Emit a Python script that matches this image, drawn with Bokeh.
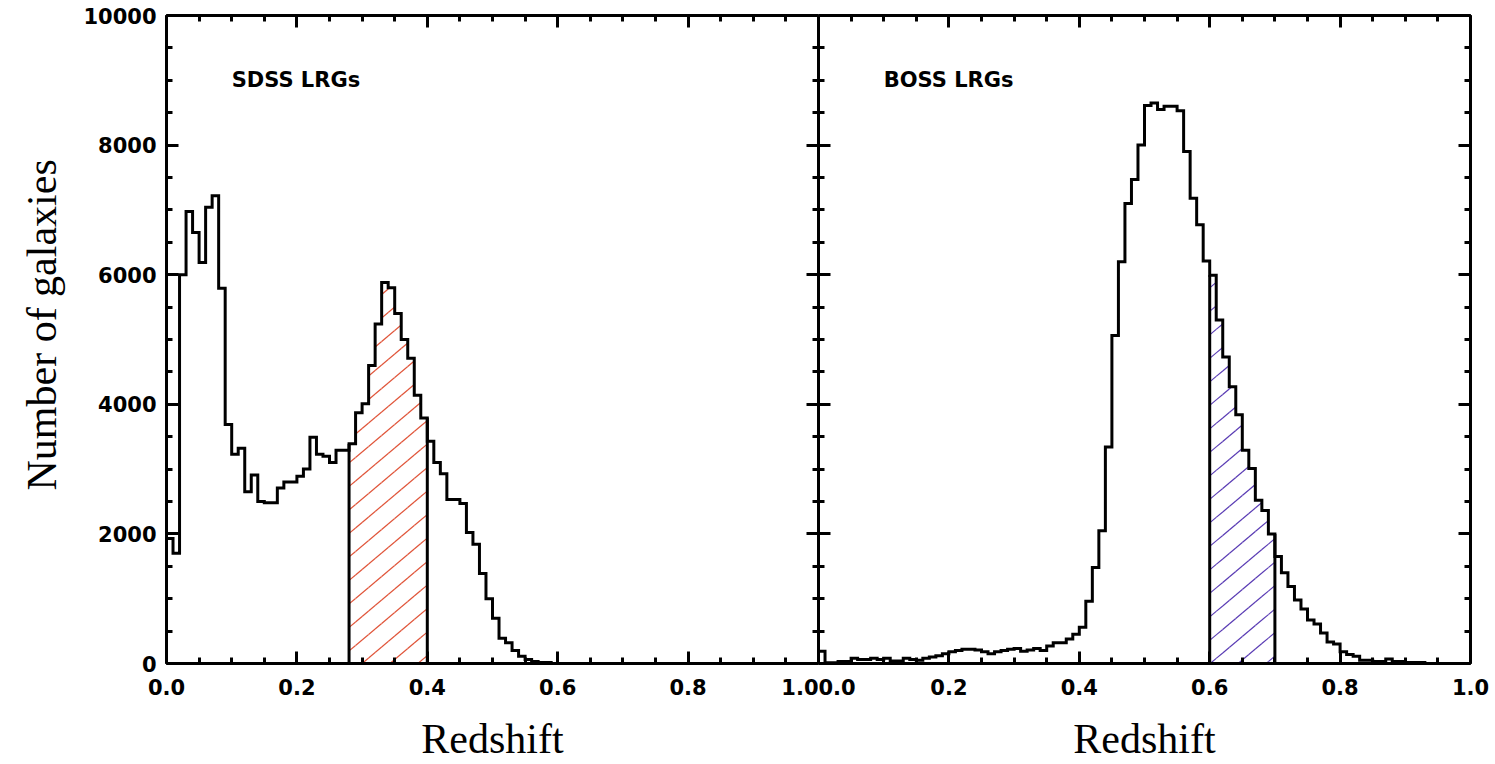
import math
import numpy as np
from bokeh.plotting import figure
from bokeh.layouts import row
from bokeh.models import (Range1d, LinearAxis, FixedTicker, PrintfTickFormatter,
                          CustomJSTickFormatter, Title)
from bokeh.core.properties import value
from bokeh.embed import file_html
from bokeh.resources import INLINE

# ---------------- data ----------------
BIN_WIDTH = 0.01

sdss_counts = [1930, 1700, 6000, 6975, 6650, 6190, 7040, 7220, 5790, 3690,
               3230, 3320, 2650, 2910, 2500, 2480, 2480, 2710, 2800, 2800,
               2890, 3000, 3490, 3230, 3200, 3100, 3290, 3290, 3390, 3870,
               4010, 4600, 5240, 5880, 5800, 5400, 5000, 4710, 4140, 3790,
               3430, 3100, 2930, 2530, 2530, 2470, 2020, 1840, 1390, 1000,
               700, 390, 320, 200, 110, 60, 30, 15, 15, 0]

boss_counts = [190, 10, 10, 30, 30, 80, 60, 60, 80, 60,
               80, 40, 40, 80, 60, 50, 80, 100, 120, 150,
               180, 200, 220, 220, 210, 180, 150, 180, 200, 220,
               230, 190, 210, 230, 200, 270, 320, 320, 380, 450,
               560, 960, 1480, 2050, 3340, 5060, 6200, 7100, 7470, 8000,
               8610, 8650, 8550, 8600, 8600, 8530, 7900, 7180, 6770, 6210,
               5990, 5300, 4730, 4270, 3840, 3290, 3010, 2520, 2360, 2000,
               1650, 1400, 1190, 980, 840, 670, 610, 470, 330, 300,
               180, 140, 110, 50, 50, 30, 30, 70, 30, 30,
               15, 15, 15, 0]

sdss_selection = [0.28, 0.40]
boss_selection = [0.60, 0.70]

panel_names = ["SDSS LRGs", "BOSS LRGs"]

x_major_ticks = [0.0, 0.2, 0.4, 0.6, 0.8, 1.0]
x_minor_ticks = [0.0, 0.05, 0.1, 0.15, 0.2, 0.25, 0.3, 0.35, 0.4, 0.45, 0.5,
                 0.55, 0.6, 0.65, 0.7, 0.75, 0.8, 0.85, 0.9, 0.95, 1.0]
y_major_ticks = [0, 2000, 4000, 6000, 8000, 10000]
y_minor_ticks = [0, 500, 1000, 1500, 2000, 2500, 3000, 3500, 4000, 4500, 5000,
                 5500, 6000, 6500, 7000, 7500, 8000, 8500, 9000, 9500, 10000]

x_title = "Redshift"
y_title = "Number of galaxies"

# ---------------- style ----------------
TICK_FONT = "DejaVu Sans"
TITLE_FONT = "Liberation Serif"
EMPTY = CustomJSTickFormatter(code="return ''")

X_MAX, Y_MAX = 1.0, 10000.0
FRAME_H = 648
HATCH_SLOPE = 0.84      # screen slope of hatch lines
HATCH_SPACING = 23.5    # vertical pixel spacing of hatch lines


def hatch_segments(edges, counts, i0, i1, frame_w):
    """Clip diagonal hatch lines (defined in screen space) to the histogram bins i0..i1-1."""
    kx = frame_w / X_MAX
    ky = FRAME_H / Y_MAX
    s, sp = HATCH_SLOPE, HATCH_SPACING
    u_min, u_max = edges[i0] * kx, edges[i1] * kx
    v_max = max(counts[i0:i1]) * ky
    k_lo = math.floor(-s * u_max / sp)
    k_hi = math.ceil((v_max - s * u_min) / sp)
    xs0, ys0, xs1, ys1 = [], [], [], []
    for k in range(k_lo, k_hi + 1):
        c = k * sp
        for i in range(i0, i1):
            ul, ur = edges[i] * kx, edges[i + 1] * kx
            vh = counts[i] * ky
            a = max(ul, -c / s)
            b = min(ur, (vh - c) / s)
            if b > a:
                xs0.append(a / kx)
                ys0.append((s * a + c) / ky)
                xs1.append(b / kx)
                ys1.append((s * b + c) / ky)
    return xs0, ys0, xs1, ys1


def style_axis(ax, major, minor, labelled, fmt=None):
    ax.ticker = FixedTicker(ticks=major, minor_ticks=minor)
    ax.axis_line_width = 3
    ax.axis_line_color = "black"
    ax.major_tick_in = 12
    ax.major_tick_out = 0
    ax.minor_tick_in = 6
    ax.minor_tick_out = 0
    ax.major_tick_line_width = 3
    ax.minor_tick_line_width = 3
    ax.major_tick_line_color = "black"
    ax.minor_tick_line_color = "black"
    if labelled:
        ax.formatter = fmt
        ax.major_label_text_font = TICK_FONT
        ax.major_label_text_font_style = "bold"
        ax.major_label_text_font_size = "21px"
        ax.major_label_text_color = "black"
    else:
        ax.formatter = EMPTY
        ax.major_label_text_font_size = "0px"
        ax.major_label_standoff = 0
        ax.axis_label_standoff = 0


def make_panel(counts, selection, hatch_color, name, width, border_left, border_right, show_y):
    n = len(counts)
    edges = [round(i * BIN_WIDTH, 2) for i in range(n + 1)]
    frame_w = width - border_left - border_right

    p = figure(width=width, height=764,
               x_range=Range1d(0, X_MAX), y_range=Range1d(0, Y_MAX),
               output_backend="svg", toolbar_location=None,
               min_border_left=border_left, min_border_right=border_right,
               min_border_top=15, min_border_bottom=101)
    p.outline_line_color = None
    p.xgrid.visible = False
    p.ygrid.visible = False
    p.background_fill_color = "white"
    p.border_fill_color = "white"

    # hatched selection
    i0 = int(round(selection[0] / BIN_WIDTH))
    i1 = int(round(selection[1] / BIN_WIDTH))
    hx0, hy0, hx1, hy1 = hatch_segments(edges, counts, i0, i1, frame_w)
    p.segment(x0=hx0, y0=hy0, x1=hx1, y1=hy1, line_color=hatch_color, line_width=1.2)
    p.segment(x0=[selection[0], selection[1]], y0=[0, 0],
              x1=[selection[0], selection[1]], y1=[counts[i0], counts[i1 - 1]],
              line_width=3, line_color="black")

    # histogram outline
    p.step(x=edges, y=counts + [0], mode="after", line_width=3,
           line_color="black", line_join="miter")

    p.text(x=[0.1], y=[9000], text=[name], text_font=value(TICK_FONT),
           text_font_style="bold", text_font_size="21px",
           text_baseline="alphabetic", text_align="left", text_color="black")

    # axes
    xb = p.xaxis[0]
    style_axis(xb, x_major_ticks, x_minor_ticks, True, PrintfTickFormatter(format="%.1f"))
    xb.major_label_standoff = 15
    xb.axis_label = x_title
    xb.axis_label_text_font = TITLE_FONT
    xb.axis_label_text_font_style = "normal"
    xb.axis_label_text_font_size = "42px"
    xb.axis_label_text_color = "black"
    xb.axis_label_standoff = 18

    yl = p.yaxis[0]
    if show_y:
        style_axis(yl, y_major_ticks, y_minor_ticks, True, PrintfTickFormatter(format="%d"))
        yl.major_label_standoff = 10
        p.add_layout(Title(text=y_title, align="left", offset=173, standoff=32,
                           text_font=TITLE_FONT, text_font_style="normal",
                           text_font_size="42px", text_color="black"), "left")
    else:
        style_axis(yl, y_major_ticks, y_minor_ticks, False)

    top = LinearAxis()
    style_axis(top, x_major_ticks, x_minor_ticks, False)
    p.add_layout(top, "above")
    right = LinearAxis()
    style_axis(right, y_major_ticks, y_minor_ticks, False)
    p.add_layout(right, "right")
    return p


left = make_panel(sdss_counts, sdss_selection, "#e0553a", panel_names[0], 818, 165, 0, True)
right_p = make_panel(boss_counts, boss_selection, "#5a3cb4", panel_names[1], 677, 0, 25, False)

layout = row(left, right_p, spacing=0)
open("out.html", "w").write(file_html(layout, INLINE))
